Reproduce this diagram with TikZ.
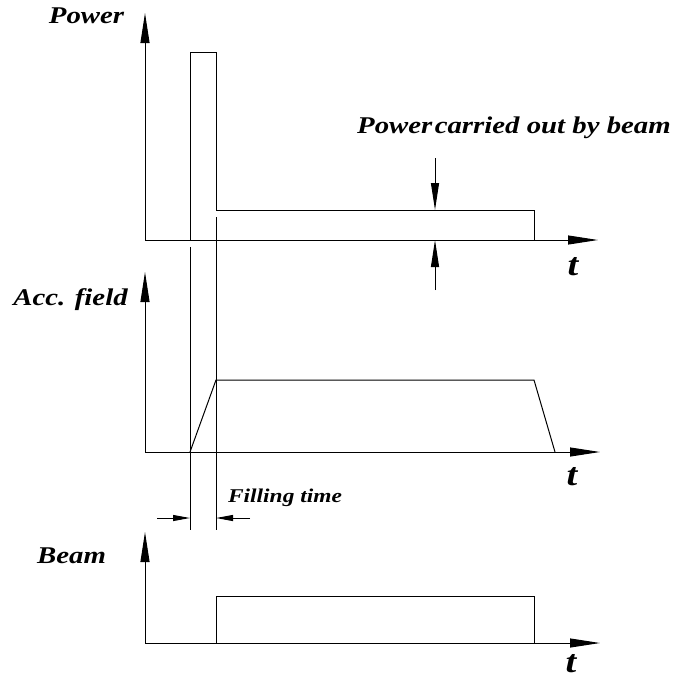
\documentclass[tikz,border=0pt]{standalone}
\usepackage{fontspec}
\setmainfont{Liberation Serif}
\newfontfamily\labfont[FakeStretch=1.2]{Liberation Serif}
\usetikzlibrary{arrows.meta}

\begin{document}
\begin{tikzpicture}[x=1pt,y=-1pt,
  line width=1pt,
  axisarrow/.style={-{Triangle[length=30pt,width=9pt]}},
  dimarrow/.style={-{Triangle[length=27pt,width=8pt]}},
  fillarrow/.style={-{Triangle[length=17pt,width=6pt]}},
  lbl/.style={font=\labfont\bfseries\itshape\fontsize{24}{24}\selectfont, inner sep=0pt, anchor=base},
  tlbl/.style={font=\labfont\bfseries\itshape\fontsize{32}{32}\selectfont, inner sep=0pt, anchor=base},
  smalllbl/.style={font=\labfont\bfseries\itshape\fontsize{19.5}{19.5}\selectfont, inner sep=0pt, anchor=base}]
\useasboundingbox (0,0) rectangle (682,678);

% ---------- Power ----------
\coordinate (p0) at (145,240);
\coordinate (pY) at (145,13);
\coordinate (pX) at (598,240);
\draw[axisarrow] (p0) -- (pY);
\draw[axisarrow] (p0) -- (pX);
\coordinate (pa) at (190,240);
\coordinate (pb) at (190,52);
\coordinate (pc) at (216,52);
\coordinate (pd) at (216,210);
\coordinate (pe) at (534,210);
\coordinate (pf) at (534,240);
\draw (pa) -- (pb) -- (pc) -- (pd) -- (pe) -- (pf);
\node[lbl] (powerlbl) at (86.5,23) {Power};
\node[tlbl] (t1) at (573,275) {t};

% power carried out by beam
\coordinate (ua) at (435,158);
\coordinate (ub) at (435,210);
\coordinate (la) at (435,290);
\coordinate (lb) at (435,240);
\draw[dimarrow] (ua) -- (ub);
\draw[dimarrow] (la) -- (lb);
\node[lbl] (carried) at (514,133) {Power\hspace{0.1em}carried out by beam};

% ---------- Acc. field ----------
\coordinate (a0) at (145,452);
\coordinate (aY) at (145,272);
\coordinate (aX) at (600,452);
\draw[axisarrow] (a0) -- (aY);
\draw[axisarrow] (a0) -- (aX);
\coordinate (aa) at (190,452);
\coordinate (ab) at (216,380);
\coordinate (ac) at (534,380);
\coordinate (ad) at (555,452);
\draw (aa) -- (ab) -- (ac) -- (ad);
\node[lbl] (acclbl) at (70.5,305) {Acc. field};
\node[tlbl] (t2) at (572,485) {t};

% ---------- filling time markers ----------
\coordinate (fa) at (190,247);
\coordinate (fb) at (190,530);
\coordinate (fc) at (216,217);
\coordinate (fd) at (216,530);
\draw (fa) -- (fb);
\draw (fc) -- (fd);
\coordinate (fl) at (157,518);
\coordinate (flt) at (190,518);
\coordinate (fr) at (250,518);
\coordinate (frt) at (216,518);
\draw[fillarrow] (fl) -- (flt);
\draw[fillarrow] (fr) -- (frt);
\node[smalllbl] (filling) at (285,502) {Filling time};

% ---------- Beam ----------
\coordinate (b0) at (145,643);
\coordinate (bY) at (145,532);
\coordinate (bX) at (600,643);
\draw[axisarrow] (b0) -- (bY);
\draw[axisarrow] (b0) -- (bX);
\coordinate (ba) at (216,643);
\coordinate (bb) at (216,596);
\coordinate (bc) at (534,596);
\coordinate (bd) at (534,643);
\draw (ba) -- (bb) -- (bc) -- (bd);
\node[lbl] (beamlbl) at (71.5,563) {Beam};
\node[tlbl] (t3) at (571,672) {t};
\end{tikzpicture}
\end{document}
